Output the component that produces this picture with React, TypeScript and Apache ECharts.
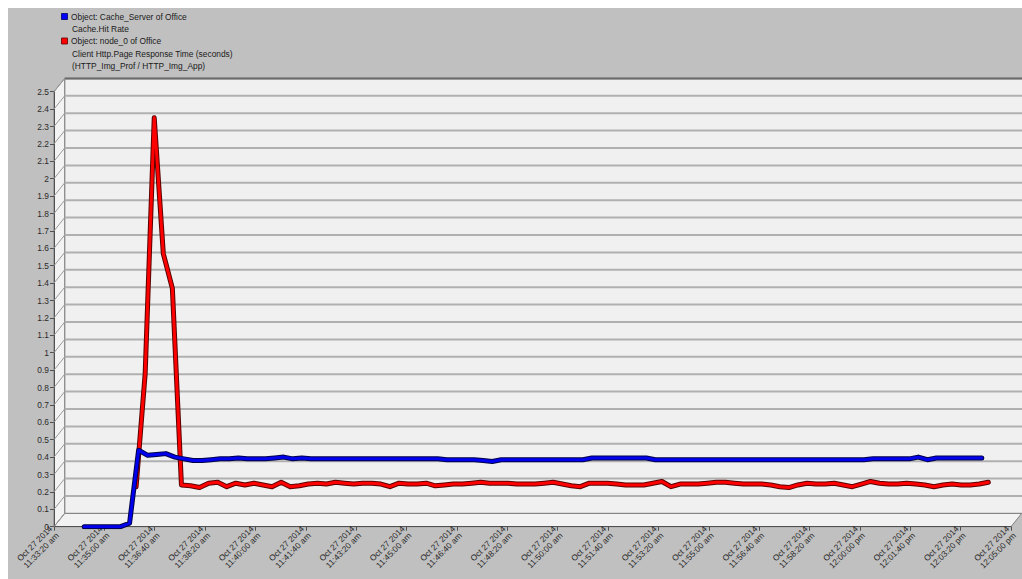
import React, { useEffect, useRef } from "react";
import * as echarts from "echarts";

// ---- data ----
const tickLabels = [
  "Oct 27 2014\n11:33:20 am", "Oct 27 2014\n11:35:00 am", "Oct 27 2014\n11:36:40 am",
  "Oct 27 2014\n11:38:20 am", "Oct 27 2014\n11:40:00 am", "Oct 27 2014\n11:41:40 am",
  "Oct 27 2014\n11:43:20 am", "Oct 27 2014\n11:45:00 am", "Oct 27 2014\n11:46:40 am",
  "Oct 27 2014\n11:48:20 am", "Oct 27 2014\n11:50:00 am", "Oct 27 2014\n11:51:40 am",
  "Oct 27 2014\n11:53:20 am", "Oct 27 2014\n11:55:00 am", "Oct 27 2014\n11:56:40 am",
  "Oct 27 2014\n11:58:20 am", "Oct 27 2014\n12:00:00 pm", "Oct 27 2014\n12:01:40 pm",
  "Oct 27 2014\n12:03:20 pm", "Oct 27 2014\n12:05:00 pm",
];

const legendLines = [
  "Object: Cache_Server of Office",
  "Cache.Hit Rate",
  "Object: node_0 of Office",
  "Client Http.Page Response Time (seconds)",
  "(HTTP_Img_Prof / HTTP_Img_App)",
];

// seconds after 11:33:20, sampled every 18 s
const blueStart = 60;
const redStart = 163;
const sampleStep = 18;

const blueValues = [
  0, 0, 0, 0, 0, 0.02, 0.44, 0.41, 0.415, 0.42,
  0.4, 0.39, 0.38, 0.38, 0.385, 0.39, 0.39, 0.395, 0.39, 0.39,
  0.39, 0.395, 0.4, 0.39, 0.395, 0.39, 0.39, 0.39, 0.39, 0.39,
  0.39, 0.39, 0.39, 0.39, 0.39, 0.39, 0.39, 0.39, 0.39, 0.39,
  0.385, 0.385, 0.385, 0.385, 0.38, 0.375, 0.385, 0.385, 0.385, 0.385,
  0.385, 0.385, 0.385, 0.385, 0.385, 0.385, 0.395, 0.395, 0.395, 0.395,
  0.395, 0.395, 0.395, 0.385, 0.385, 0.385, 0.385, 0.385, 0.385, 0.385,
  0.385, 0.385, 0.385, 0.385, 0.385, 0.385, 0.385, 0.385, 0.385, 0.385,
  0.385, 0.385, 0.385, 0.385, 0.385, 0.385, 0.385, 0.39, 0.39, 0.39,
  0.39, 0.39, 0.4, 0.385, 0.395, 0.395, 0.395, 0.395, 0.395, 0.395,
];

const redValues = [
  0.23, 0.88, 2.35, 1.57, 1.37, 0.24, 0.235, 0.225, 0.25, 0.255,
  0.23, 0.25, 0.24, 0.25, 0.24, 0.23, 0.255, 0.23, 0.235, 0.245,
  0.25, 0.245, 0.255, 0.25, 0.245, 0.25, 0.25, 0.245, 0.23, 0.25,
  0.245, 0.245, 0.25, 0.235, 0.24, 0.245, 0.245, 0.25, 0.255, 0.25,
  0.25, 0.25, 0.245, 0.245, 0.245, 0.25, 0.255, 0.245, 0.235, 0.23,
  0.25, 0.25, 0.25, 0.245, 0.24, 0.24, 0.24, 0.25, 0.26, 0.23,
  0.245, 0.245, 0.245, 0.25, 0.255, 0.255, 0.25, 0.245, 0.245, 0.245,
  0.24, 0.23, 0.225, 0.24, 0.25, 0.245, 0.245, 0.25, 0.24, 0.23,
  0.245, 0.26, 0.25, 0.245, 0.245, 0.25, 0.245, 0.24, 0.23, 0.24,
  0.245, 0.24, 0.24, 0.245, 0.255,
];

const yTickValues = Array.from({ length: 26 }, (_, i) => i / 10);

// ---- layout (page coords, div is offset by 8px) ----
const OFF = 8;
const FRONT_L = 54;
const FRONT_R = 1011;
const FRONT_T = 91.7;
const FRONT_B = 526.7;
const DX = 10.7;
const DY = 13.3;

export default function App() {
  const ref = useRef<HTMLDivElement>(null);
  useEffect(() => {
    if (!ref.current) return;
    const chart = echarts.init(ref.current, undefined, { renderer: "svg" });
    const p = (x: number, y: number) => [x - OFF, y - OFF];
    const yF = (v: number) => FRONT_B - (v / 2.5) * (FRONT_B - FRONT_T);

    const wallLines = yTickValues.map((v) => ({
      type: "line",
      z: 1,
      shape: {
        x1: FRONT_L - OFF, y1: yF(v) - OFF,
        x2: FRONT_L + DX - OFF, y2: yF(v) - DY - OFF,
      },
      style: { stroke: "#9a9a9a", lineWidth: 1 },
    }));

    const backGridLines = yTickValues.slice(1).map((v) => ({
      type: "line",
      z: 1,
      shape: {
        x1: FRONT_L + DX - OFF, y1: yF(v) - DY - OFF,
        x2: 1030, y2: yF(v) - DY - OFF,
      },
      style: { stroke: "#b0b0b0", lineWidth: 2 },
    }));

    const legendTexts = legendLines.map((t, i) => ({
      type: "text",
      z: 3,
      x: (i === 0 || i === 2 ? 71 : 72) - OFF,
      y: 17 + i * 12.2 - OFF,
      style: {
        text: t,
        fill: "#1a1a1a",
        font: "8.4px 'Liberation Sans', Arial, sans-serif",
        textVerticalAlign: "middle",
      },
    }));

    const blueData = blueValues.map((v, i) => [blueStart + i * sampleStep, v]);
    const redData = redValues.map((v, i) => [redStart + i * sampleStep, v]);

    const lineSeries = (data: number[][], color: string, width: number, z: number) => ({
      type: "line",
      data,
      showSymbol: false,
      symbol: "none",
      z,
      lineStyle: { color, width, join: "round", cap: "round" },
      silent: true,
    });

    chart.setOption({
      animation: false,
      backgroundColor: "#c0c0c0",
      grid: {
        left: FRONT_L - OFF,
        top: FRONT_T - OFF,
        width: FRONT_R - FRONT_L,
        height: FRONT_B - FRONT_T,
        containLabel: false,
      },
      xAxis: {
        type: "value",
        min: 0,
        max: 1900,
        interval: 100,
        axisLine: { show: true, lineStyle: { color: "#505050", width: 1 } },
        axisTick: { show: true, length: 4, lineStyle: { color: "#505050" } },
        splitLine: { show: false },
        axisLabel: {
          rotate: 45,
          margin: 4,
          fontSize: 8.4,
          lineHeight: 9.5,
          color: "#2a2a2a",
          fontFamily: "'Liberation Sans', Arial, sans-serif",
          showMinLabel: true,
          showMaxLabel: true,
          formatter: (v: number) => tickLabels[Math.round(v / 100)] ?? "",
        },
      },
      yAxis: {
        type: "value",
        min: 0,
        max: 2.5,
        interval: 0.1,
        axisLine: { show: true, lineStyle: { color: "#505050", width: 1 } },
        axisTick: { show: true, length: 4, lineStyle: { color: "#505050" } },
        splitLine: { show: false },
        axisLabel: {
          margin: 5,
          fontSize: 8.4,
          color: "#2a2a2a",
          fontFamily: "'Liberation Sans', Arial, sans-serif",
        },
      },
      graphic: [
        // back wall
        {
          type: "rect",
          z: -10,
          shape: {
            x: FRONT_L + DX - OFF,
            y: FRONT_T - DY - OFF,
            width: 1040,
            height: FRONT_B - FRONT_T,
          },
          style: { fill: "#f0f0f0", stroke: "#808080", lineWidth: 1 },
        },
        ...backGridLines,
        // back wall top edge
        {
          type: "line",
          z: 1,
          shape: {
            x1: FRONT_L + DX - OFF, y1: FRONT_T - DY - OFF,
            x2: 1030, y2: FRONT_T - DY - OFF,
          },
          style: { stroke: "#6a6a6a", lineWidth: 2 },
        },
        // left wall
        {
          type: "polygon",
          z: 0,
          shape: {
            points: [
              p(FRONT_L, FRONT_T), p(FRONT_L + DX, FRONT_T - DY),
              p(FRONT_L + DX, FRONT_B - DY), p(FRONT_L, FRONT_B),
            ],
          },
          style: { fill: "#f3f3f3", stroke: "#808080", lineWidth: 1 },
        },
        // floor
        {
          type: "polygon",
          z: 0,
          shape: {
            points: [
              p(FRONT_L, FRONT_B), p(FRONT_L + DX, FRONT_B - DY),
              p(FRONT_R + DX, FRONT_B - DY), p(FRONT_R, FRONT_B),
            ],
          },
          style: { fill: "#f2f2f2", stroke: "#808080", lineWidth: 1 },
        },
        ...wallLines,
        // legend squares
        {
          type: "rect",
          z: 3,
          shape: { x: 61.5 - OFF, y: 13.5 - OFF, width: 6, height: 6 },
          style: { fill: "#0000ff", stroke: "#000060", lineWidth: 0.8 },
        },
        {
          type: "rect",
          z: 3,
          shape: { x: 61.5 - OFF, y: 38 - OFF, width: 6, height: 6 },
          style: { fill: "#ff0000", stroke: "#600000", lineWidth: 0.8 },
        },
        ...legendTexts,
      ],
      series: [
        lineSeries(redData, "#5a0000", 5, 2),
        lineSeries(redData, "#ff0000", 3, 3),
        lineSeries(blueData, "#00004a", 5, 4),
        lineSeries(blueData, "#0000ee", 3, 5),
      ],
    } as any);
    return () => chart.dispose();
  }, []);
  return (
    <div
      ref={ref}
      style={{ position: "fixed", left: 8, top: 8, width: 1014, height: 571 }}
    />
  );
}
